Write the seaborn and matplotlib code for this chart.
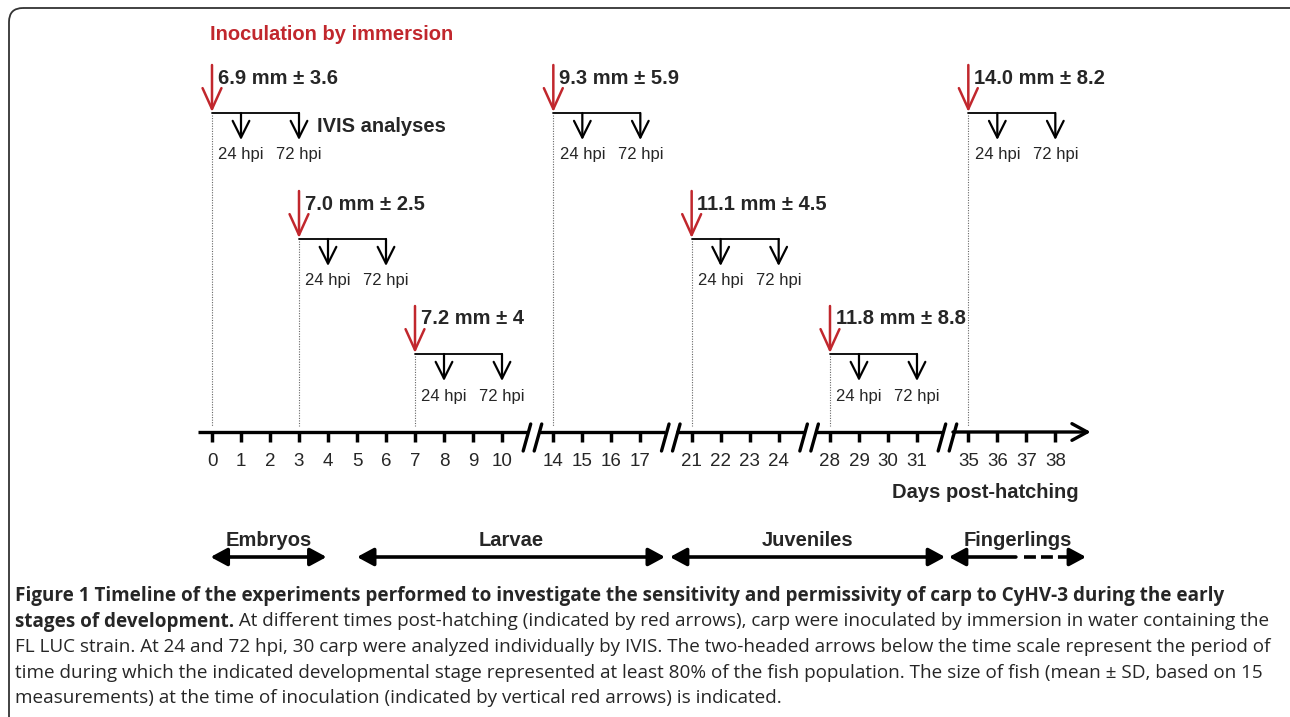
import matplotlib
matplotlib.use('Agg')
import matplotlib.pyplot as plt
from matplotlib.patches import FancyBboxPatch
import seaborn as sns
import pandas as pd

# days written under the time scale, one list per piece between the breaks
seg_days = [[0, 1, 2, 3, 4, 5, 6, 7, 8, 9, 10],
            [14, 15, 16, 17],
            [21, 22, 23, 24],
            [28, 29, 30, 31],
            [35, 36, 37, 38]]

# inoculations by immersion
inoc_days = [0, 3, 7, 14, 21, 28, 35]
inoc_size = ['6.9 mm ± 3.6', '7.0 mm ± 2.5', '7.2 mm ± 4', '9.3 mm ± 5.9',
             '11.1 mm ± 4.5', '11.8 mm ± 8.8', '14.0 mm ± 8.2']
inoc_row = [0, 1, 2, 0, 1, 2, 0]
hpi_days = [1, 3]
hpi_labels = ['24 hpi', '72 hpi']

# developmental stages (days post-hatching)
stages = ['Embryos', 'Larvae', 'Juveniles', 'Fingerlings']
stage_start = [-0.05, 5.0, 18.02, 32.1]
stage_end = [3.95, 17.85, 31.97, 39.06]
stage_solid_end = [3.95, 17.85, 31.97, 36.64]

caption_bold1 = ('Figure 1 Timeline of the experiments performed to investigate the sensitivity '
                 'and permissivity of carp to CyHV-3 during the early')
caption_bold2 = 'stages of development.'
caption_lines = [
    ' At different times post-hatching (indicated by red arrows), carp were inoculated by immersion in water containing the',
    'FL LUC strain. At 24 and 72 hpi, 30 carp were analyzed individually by IVIS. The two-headed arrows below the time scale represent the period of',
    'time during which the indicated developmental stage represented at least 80% of the fish population. The size of fish (mean ± SD, based on 15',
    'measurements) at the time of inoculation (indicated by vertical red arrows) is indicated.',
]

RED = '#c1272d'
GAP = 1.77          # width of a break on the scale, in day units
BREAK_AT = 1.05     # where the // sits after the end of a piece

starts = [s[0] for s in seg_days]
bases = [0.0]
for k in range(1, len(seg_days)):
    bases.append(bases[-1] + (seg_days[k - 1][-1] - seg_days[k - 1][0]) + GAP)


def to_pos(d):
    k = 0
    for i, s in enumerate(starts):
        if d >= s:
            k = i
    return bases[k] + (d - starts[k])


sns.set_theme(style='white')
plt.rcParams['font.family'] = ['Liberation Sans', 'DejaVu Sans']

fig = plt.figure(figsize=(12.9, 7.17), dpi=100)
cax = fig.add_axes([0, 0, 1, 1])
cax.set_xlim(0, 1290)
cax.set_ylim(717, 0)
cax.axis('off')
ax = fig.add_axes([0, 0, 1, 1])
ax.set_xlim(-212 / 29, (1290 - 212) / 29)
ax.set_ylim(717, 0)
ax.axis('off')
ax.patch.set_alpha(0)

# frame (only the top and left edges fall inside the picture)
cax.add_patch(FancyBboxPatch((9, 8), 1300, 740, boxstyle='round,pad=0,rounding_size=14',
                             fc='none', ec='#333333', lw=1.3))

# ---- time scale ----
AY = 432
breaks = [to_pos(s[-1]) + BREAK_AT for s in seg_days[:-1]]
edges = [-0.48] + [b for b in breaks for _ in (0, 1)] + [30.3]
for i in range(0, len(edges), 2):
    x0 = edges[i] + (0.19 if i > 0 else 0)
    x1 = edges[i + 1] - (0.19 if i + 2 < len(edges) else 0)
    if i + 2 < len(edges):
        ax.plot([x0, x1], [AY, AY], color='black', lw=2.4, solid_capstyle='butt')
    else:
        ax.annotate('', xy=(x1, AY), xytext=(x0, AY),
                    arrowprops=dict(arrowstyle='->,head_length=0.55,head_width=0.3',
                                    lw=2.4, color='black', shrinkA=0, shrinkB=0,
                                    mutation_scale=20))
for b in breaks:
    for off in (-0.19, 0.19):
        ax.plot([b + off - 0.13, b + off + 0.13], [451, 424], color='black', lw=2.4)

ticks = pd.DataFrame({'day': [d for s in seg_days for d in s]})
ticks['pos'] = ticks['day'].map(to_pos)
ticks['y'] = AY + 5
sns.scatterplot(data=ticks, x='pos', y='y', marker='|', s=55, linewidth=2.5,
                color='black', ax=ax, legend=False)
for p, d in zip(ticks['pos'], ticks['day']):
    ax.text(p, 462, str(d), ha='center', va='center', fontsize=13.5)
ax.text(to_pos(38) + 0.8, 492, 'Days post-hatching', ha='right', va='center',
        fontsize=14.5, fontweight='bold')

# ---- inoculations ----
row_y = [113, 239, 354]
for d, lab, r in zip(inoc_days, inoc_size, inoc_row):
    p = to_pos(d)
    hy = row_y[r]
    ax.annotate('', xy=(p, hy - 1), xytext=(p, hy - 48),
                arrowprops=dict(arrowstyle='->,head_length=0.75,head_width=0.34',
                                lw=1.8, color=RED, shrinkA=0, shrinkB=0, mutation_scale=20))
    ax.text(p + 0.2, hy - 35, lab, ha='left', va='center', fontsize=14.5, fontweight='bold')
    ax.plot([p, to_pos(d + hpi_days[-1])], [hy, hy], color='black', lw=1.3)
    ax.plot([p, p], [hy + 2, 426], color='#666666', lw=0.8, ls=(0, (1, 1.3)))
    for h, hl in zip(hpi_days, hpi_labels):
        q = to_pos(d + h)
        ax.annotate('', xy=(q, hy + 27), xytext=(q, hy),
                    arrowprops=dict(arrowstyle='->,head_length=0.6,head_width=0.3',
                                    lw=1.6, color='black', shrinkA=0, shrinkB=0,
                                    mutation_scale=20))
        ax.text(q, hy + 42, hl, ha='center', va='center', fontsize=12)

ax.text(to_pos(3) + 0.62, 127, 'IVIS analyses', ha='left', va='center',
        fontsize=14.5, fontweight='bold')
ax.text(-0.07, 35, 'Inoculation by immersion', ha='left', va='center',
        fontsize=14.5, fontweight='bold', color=RED)

# ---- developmental stages ----
SY = 557
HEAD = '<|-|>,head_length=0.5,head_width=0.27'
hs = dict(lw=2.6, color='black', shrinkA=0, shrinkB=0, mutation_scale=20)
for name, a, b, c in zip(stages, stage_start, stage_end, stage_solid_end):
    pa, pb, pc = to_pos(a), to_pos(b), to_pos(c)
    if c >= b:
        ax.annotate('', xy=(pb, SY), xytext=(pa, SY), arrowprops=dict(arrowstyle=HEAD, **hs))
    else:
        ax.annotate('', xy=(pa, SY), xytext=(pc, SY),
                    arrowprops=dict(arrowstyle='-|>,head_length=0.5,head_width=0.27', **hs))
        ax.plot([pc + 0.28, pb - 0.4], [SY, SY], color='black', lw=2.6,
                dashes=(3.3, 1.4), dash_capstyle='butt')
        ax.annotate('', xy=(pb, SY), xytext=(pb - 0.45, SY),
                    arrowprops=dict(arrowstyle='-|>,head_length=0.5,head_width=0.27', **hs))
    ax.text((pa + pb) / 2, 540, name, ha='center', va='center', fontsize=14.5,
            fontweight='bold')

# ---- caption ----
cap_font = ['Open Sans', 'DejaVu Sans']
fig.canvas.draw()
rend = fig.canvas.get_renderer()
probe = cax.text(0, 0, caption_lines[1], fontsize=12, family=cap_font)
w12 = probe.get_window_extent(rend).width
probe.remove()
cap_size = 12 * 1253 / w12

CY = 596
cax.text(15, CY, caption_bold1, ha='left', va='center', fontsize=cap_size,
         family=cap_font, fontweight='bold')
t = cax.text(15, CY + 25.5, caption_bold2, ha='left', va='center', fontsize=cap_size,
             family=cap_font, fontweight='bold')
fig.canvas.draw()
xend = 15 + t.get_window_extent(rend).width
cax.text(xend, CY + 25.5, caption_lines[0], ha='left', va='center', fontsize=cap_size,
         family=cap_font)
for i, line in enumerate(caption_lines[1:]):
    cax.text(15, CY + 25.5 * (i + 2), line, ha='left', va='center', fontsize=cap_size,
             family=cap_font)

fig.savefig('out.png', dpi=100)
